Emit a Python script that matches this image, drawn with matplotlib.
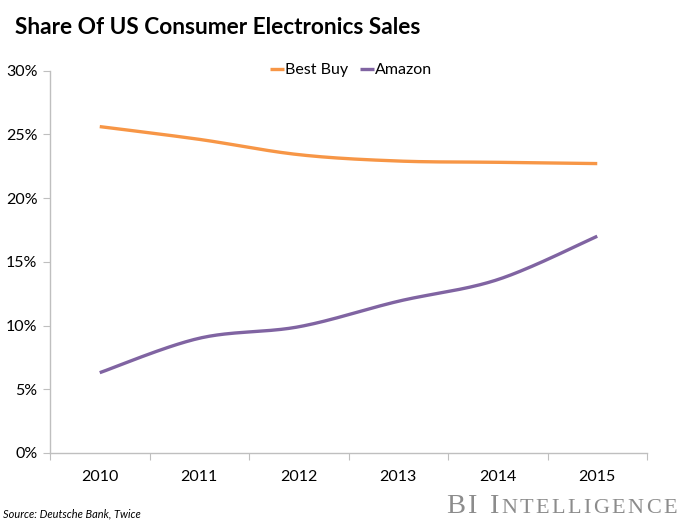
import numpy as np
import matplotlib
matplotlib.use("Agg")
import matplotlib.pyplot as plt

years = [2010, 2011, 2012, 2013, 2014, 2015]
best_buy = [25.6, 24.6, 23.4, 22.9, 22.8, 22.7]
amazon = [6.3, 9.0, 9.9, 11.9, 13.6, 17.0]
series_names = ["Best Buy", "Amazon"]
colors = ["#F79646", "#8064A2"]
yticks = [0, 5, 10, 15, 20, 25, 30]

plt.rcParams['font.family'] = ['Lato', 'DejaVu Sans']


def smooth(x, y, n=40):
    # Excel-style smoothed line: Catmull-Rom converted to cubic Bezier segments
    x = np.asarray(x, float); y = np.asarray(y, float)
    px = np.concatenate([[x[0]], x, [x[-1]]])
    py = np.concatenate([[y[0]], y, [y[-1]]])
    xs, ys = [], []
    t = np.linspace(0, 1, n)
    for i in range(1, len(px) - 2):
        p0 = np.array([px[i], py[i]]); p3 = np.array([px[i + 1], py[i + 1]])
        p1 = p0 + (np.array([px[i + 1], py[i + 1]]) - np.array([px[i - 1], py[i - 1]])) / 6
        p2 = p3 - (np.array([px[i + 2], py[i + 2]]) - np.array([px[i], py[i]])) / 6
        b = ((1 - t) ** 3)[:, None] * p0 + (3 * (1 - t) ** 2 * t)[:, None] * p1 \
            + (3 * (1 - t) * t ** 2)[:, None] * p2 + (t ** 3)[:, None] * p3
        xs.extend(b[:, 0]); ys.extend(b[:, 1])
    return np.array(xs), np.array(ys)


fig = plt.figure(figsize=(7, 5.22), dpi=100)
ax = fig.add_axes([50 / 700, 1 - 453 / 522, (647 - 50) / 700, (453 - 70.5) / 522])

for vals, name, c in zip([best_buy, amazon], series_names, colors):
    sx, sy = smooth(years, vals)
    ax.plot(sx, sy, color=c, lw=2.4, label=name, solid_capstyle='butt')

ax.set_xlim(years[0] - 0.5, years[-1] + 0.5)
ax.set_ylim(0, 30)
ax.set_yticks(yticks)
ax.set_yticklabels([f"{v}%" for v in yticks])
ax.set_xticks([y + 0.5 for y in [years[0] - 1] + years])
ax.set_xticklabels([])
ax.set_xticks(years, minor=True)
ax.set_xticklabels([str(y) for y in years], minor=True)
ax.tick_params(axis='x', which='minor', length=0, pad=12, labelsize=11.5)
ax.tick_params(axis='x', which='major', length=5, color='#BFBFBF', direction='out')
ax.tick_params(axis='y', length=5, color='#BFBFBF', direction='out', labelsize=11.5, pad=4)
for s in ['top', 'right']:
    ax.spines[s].set_visible(False)
for s in ['left', 'bottom']:
    ax.spines[s].set_color('#BFBFBF')
    ax.spines[s].set_linewidth(1)

leg = fig.legend(loc='center', bbox_to_anchor=(351 / 700, 1 - 70 / 522), ncol=2, frameon=False,
                 fontsize=11.5, handlelength=0.9, handletextpad=0.05, columnspacing=0.7)

fig.text(15 / 700, 1 - 27 / 522, "Share Of US Consumer Electronics Sales", fontsize=16.3,
         fontweight='bold', va='center', ha='left')
fig.text(3 / 700, 1 - 514 / 522, "Source: Deutsche Bank, Twice", fontsize=7.9, style='italic',
         va='center', ha='left')

# BI Intelligence logo in letter-spaced small caps
renderer = fig.canvas.get_renderer()
x = 446
tracking = 2.4
words = [[("B", 20.5), ("I", 20.5)],
         [("I", 20.5)] + [(ch, 16) for ch in "NTELLIGENCE"]]
for wi, word in enumerate(words):
    for ch, fs in word:
        t = fig.text(x / 700, 1 - 513 / 522, ch, fontsize=fs, family='Liberation Serif',
                     color='#8C8C8C', va='baseline', ha='left')
        bb = t.get_window_extent(renderer)
        x += bb.width + tracking
    if wi == 0:
        x += 10

fig.savefig("out.png", dpi=100)
